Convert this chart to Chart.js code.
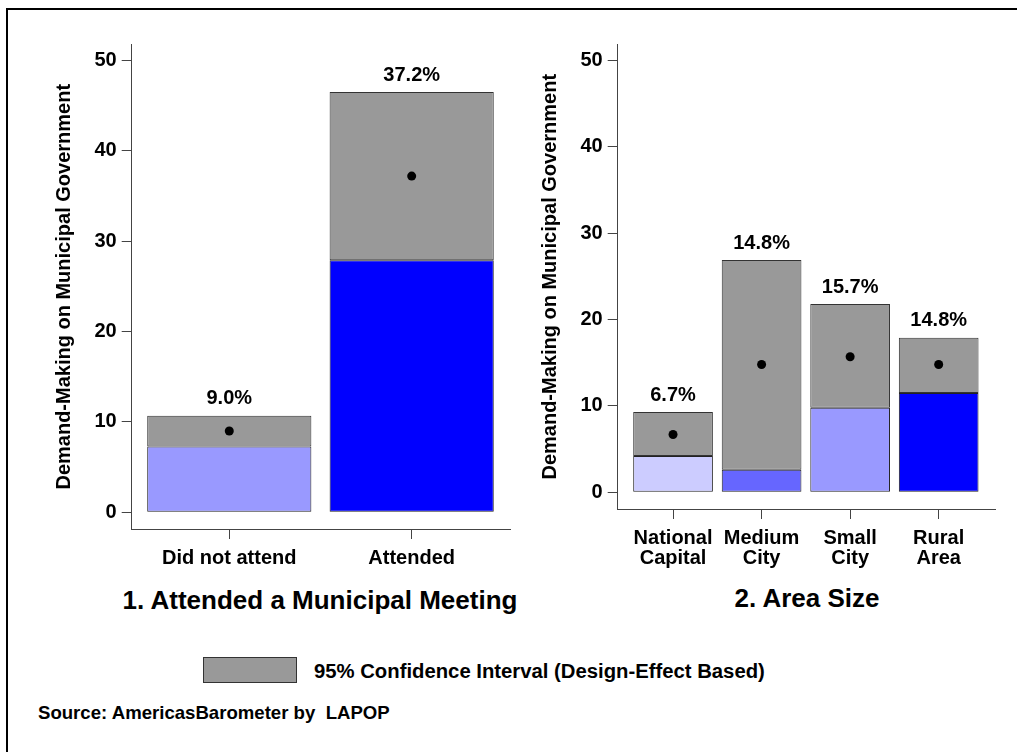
<!DOCTYPE html>
<html>
<head>
<meta charset="utf-8">
<title>Demand-Making on Municipal Government</title>
<script src="https://cdn.jsdelivr.net/npm/chart.js@4.4.1/dist/chart.umd.min.js"></script>
<style>
  body { margin: 0; background: #fff; }
  #page {
    position: relative; width: 1017px; height: 752px; overflow: hidden;
    font-family: "Liberation Sans", Arial, sans-serif; font-weight: bold; color: #000;
  }
  #frame {
    position: absolute; left: 6px; top: 8px; width: 1100px; height: 800px;
    border-left: 2px solid #000; border-top: 2px solid #000;
  }
  .panel { position: absolute; top: 40px; width: 480px; height: 540px; }
  .ptitle {
    position: absolute; font-size: 26px; white-space: nowrap;
    transform: translate(-50%, -50%);
  }
  #legendBox {
    position: absolute; left: 203px; top: 657px; width: 92px; height: 24px;
    background: #999; border: 1px solid #333;
  }
  #legendText { position: absolute; left: 314px; top: 660px; font-size: 20.3px; white-space: nowrap; }
  #source { position: absolute; left: 38px; top: 702px; font-size: 18.6px; white-space: pre; }
</style>
</head>
<body>
<div id="page">
  <div id="frame"></div>
  <div class="panel" style="left:40px"><canvas id="meetingChart"></canvas></div>
  <div class="panel" style="left:530px"><canvas id="areaChart"></canvas></div>
  <div class="ptitle" style="left:320px; top:600px">1. Attended a Municipal Meeting</div>
  <div class="ptitle" style="left:807px; top:598px">2. Area Size</div>
  <div id="legendBox"></div>
  <div id="legendText">95% Confidence Interval (Design-Effect Based)</div>
  <div id="source">Source: AmericasBarometer by  LAPOP</div>
</div>

<script>
// Panel 1: attended a municipal meeting
const meetingLabels = ['Did not attend', 'Attended'];
const meetingMeans = [9.0, 37.2];
const meetingLower = [7.3, 27.9];
const meetingUpper = [10.7, 46.5];
const meetingColors = ['#9999ff', '#0000ff'];

// Panel 2: area size
const areaLabels = [['National', 'Capital'], ['Medium', 'City'], ['Small', 'City'], ['Rural', 'Area']];
const areaMeans = [6.7, 14.8, 15.7, 14.8];
const areaLower = [4.2, 2.6, 9.8, 11.5];
const areaUpper = [9.3, 26.9, 21.8, 17.9];
const areaColors = ['#ccccff', '#6666ff', '#9999ff', '#0000ff'];

const yTicks = [0, 10, 20, 30, 40, 50];
const yTitle = 'Demand-Making on Municipal Government';

Chart.defaults.font.family = '"Liberation Sans", Arial, sans-serif';
Chart.defaults.font.weight = 'bold';
Chart.defaults.color = '#000';

// percentage labels above each confidence box
const valueLabels = {
    id: 'valueLabels',
    afterDatasetsDraw(chart) {
        const ctx = chart.ctx;
        const meta = chart.getDatasetMeta(1);
        const means = chart.data.datasets[2].data;
        ctx.save();
        ctx.font = 'bold 20px "Liberation Sans", Arial, sans-serif';
        ctx.fillStyle = '#000';
        ctx.textAlign = 'center';
        ctx.textBaseline = 'middle';
        meta.data.forEach((bar, i) => {
            const top = Math.min(bar.y, bar.base);
            ctx.fillText(means[i].y.toFixed(1) + '%', bar.x, top - 17);
        });
        ctx.restore();
    }
};

function makePanel(canvasId, labels, means, lower, upper, colors, cfg) {
    const ctx = document.getElementById(canvasId).getContext('2d');
    return new Chart(ctx, {
        type: 'bar',
        data: {
            datasets: [{
                label: 'Estimate',
                data: labels.map((_, i) => ({ x: i, y: [0, lower[i]] })),
                backgroundColor: colors,
                borderColor: '#222',
                borderWidth: 1,
                borderSkipped: false,
                grouped: false,
                barPercentage: 0.9,
                categoryPercentage: 1,
                order: 2
            }, {
                label: '95% Confidence Interval (Design-Effect Based)',
                data: labels.map((_, i) => ({ x: i, y: [lower[i], upper[i]] })),
                backgroundColor: '#999999',
                borderColor: '#333',
                borderWidth: 1,
                borderSkipped: false,
                grouped: false,
                barPercentage: 0.9,
                categoryPercentage: 1,
                order: 1
            }, {
                type: 'scatter',
                label: 'Mean',
                data: labels.map((_, i) => ({ x: i, y: means[i] })),
                backgroundColor: '#000',
                borderWidth: 0,
                pointRadius: 4.5,
                order: 0
            }]
        },
        options: {
            responsive: true,
            maintainAspectRatio: false,
            animation: false,
            layout: { padding: { top: 3, right: cfg.padRight, left: 0, bottom: 0 } },
            plugins: {
                legend: { display: false },
                tooltip: { enabled: false }
            },
            scales: {
                x: {
                    type: 'linear',
                    min: cfg.xMin,
                    max: cfg.xMax,
                    offset: false,
                    grid: { offset: false, drawOnChartArea: false, drawTicks: true, tickLength: 10, color: '#444' },
                    border: { display: true, color: '#444', width: 1 },
                    ticks: {
                        stepSize: 1,
                        includeBounds: false,
                        autoSkip: false,
                        maxRotation: 0,
                        padding: 9,
                        font: { size: 20, weight: 'bold', lineHeight: 1.0 },
                        callback: value => labels[value]
                    },
                    afterFit: scale => { scale.height = cfg.xHeight; }
                },
                y: {
                    min: cfg.yMin,
                    max: cfg.yMax,
                    grid: { drawOnChartArea: false, drawTicks: true, tickLength: 10, color: '#444' },
                    border: { display: true, color: '#444', width: 1 },
                    afterBuildTicks: scale => { scale.ticks = yTicks.map(v => ({ value: v })); },
                    ticks: {
                        padding: 5,
                        font: { size: 20, weight: 'bold' }
                    },
                    title: {
                        display: true,
                        text: yTitle,
                        font: { size: 20, weight: 'bold' },
                        padding: { top: cfg.titlePad, bottom: 0 }
                    },
                    afterFit: scale => {
                        scale.width = cfg.yWidth;
                        scale.paddingTop = 0;
                        scale.paddingBottom = 0;
                    }
                }
            }
        },
        plugins: [valueLabels]
    });
}

makePanel('meetingChart', meetingLabels, meetingMeans, meetingLower, meetingUpper, meetingColors, {
    xMin: -0.535, xMax: 1.539, yMin: -1.84, yMax: 51.76,
    yWidth: 91.7, xHeight: 51, padRight: 10, titlePad: 12
});

makePanel('areaChart', areaLabels, areaMeans, areaLower, areaUpper, areaColors, {
    xMin: -0.625, xMax: 3.636, yMin: -1.93, yMax: 51.85,
    yWidth: 87.7, xHeight: 71, padRight: 15, titlePad: 8
});
</script>
</body>
</html>
